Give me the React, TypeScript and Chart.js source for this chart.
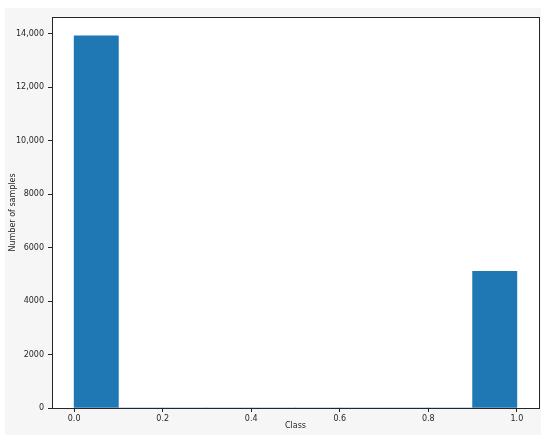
import React, { useEffect, useRef } from "react";
import { Chart, registerables } from "chart.js";

Chart.register(...registerables);

const binCenters = [0.05, 0.15, 0.25, 0.35, 0.45, 0.55, 0.65, 0.75, 0.85, 0.95];
const counts = [13920, 0, 0, 0, 0, 0, 0, 0, 0, 5110];
const xTicks = [0, 0.2, 0.4, 0.6, 0.8, 1.0];
const yTicks = [0, 2000, 4000, 6000, 8000, 10000, 12000, 14000];
const xLabel = "Class";
const yLabel = "Number of samples";

const FONT = "DejaVu Sans";

const framePlugin = {
  id: "frame",
  beforeDatasetsDraw(chart: any) {
    const { ctx, chartArea } = chart;
    ctx.save();
    ctx.fillStyle = "#ffffff";
    ctx.fillRect(
      chartArea.left,
      chartArea.top,
      chartArea.right - chartArea.left,
      chartArea.bottom - chartArea.top
    );
    ctx.restore();
  },
  afterDatasetsDraw(chart: any) {
    const { ctx, chartArea } = chart;
    ctx.save();
    ctx.strokeStyle = "#262626";
    ctx.lineWidth = 1;
    ctx.strokeRect(
      Math.round(chartArea.left) + 0.5,
      Math.round(chartArea.top) + 0.5,
      Math.round(chartArea.right - chartArea.left),
      Math.round(chartArea.bottom - chartArea.top)
    );
    ctx.restore();
  },
};

export default function App() {
  const ref = useRef<HTMLCanvasElement | null>(null);
  useEffect(() => {
    if (!ref.current) return;
    const chart = new Chart(ref.current, {
      type: "bar",
      data: {
        datasets: [
          {
            data: binCenters.map((x, i) => ({ x, y: counts[i] })),
            backgroundColor: "#1f77b4",
            borderWidth: 0,
            barPercentage: 1,
            categoryPercentage: 1,
          },
        ],
      },
      plugins: [framePlugin],
      options: {
        animation: false,
        responsive: false,
        maintainAspectRatio: false,
        layout: { padding: { top: 5, right: 2, left: 0, bottom: 0 } },
        plugins: { legend: { display: false }, tooltip: { enabled: false } },
        scales: {
          x: {
            type: "linear",
            min: -0.05,
            max: 1.05,
            offset: false,
            afterBuildTicks: (s: any) => {
              s.ticks = xTicks.map((v) => ({ value: v }));
            },
            afterFit: (s: any) => {
              s.height = 27;
            },
            grid: {
              offset: false,
              drawOnChartArea: false,
              drawTicks: true,
              tickLength: 4,
              color: "#262626",
            },
            border: { display: false },
            ticks: {
              autoSkip: false,
              maxRotation: 0,
              padding: 2,
              color: "#262626",
              font: { family: FONT, size: 8 },
              callback: (v: any) => Number(v).toFixed(1),
            },
            title: {
              display: true,
              text: xLabel,
              color: "#262626",
              font: { family: FONT, size: 8 },
              padding: { top: 0, bottom: 4 },
            },
          },
          y: {
            type: "linear",
            min: 0,
            max: 14630,
            afterBuildTicks: (s: any) => {
              s.ticks = yTicks.map((v) => ({ value: v }));
            },
            afterFit: (s: any) => {
              s.width = 47;
            },
            grid: { drawOnChartArea: false, drawTicks: true, tickLength: 4, color: "#262626" },
            border: { display: false },
            ticks: {
              autoSkip: false,
              padding: 4,
              color: "#262626",
              font: { family: FONT, size: 8 },
              callback: (v: any) =>
                Number(v) >= 10000 ? Number(v).toLocaleString("en-US") : String(v),
            },
            title: {
              display: true,
              text: yLabel,
              color: "#262626",
              font: { family: FONT, size: 8 },
              padding: { top: 3, bottom: 0 },
            },
          },
        },
      },
    } as any);
    return () => chart.destroy();
  }, []);

  return (
    <div
      style={{
        position: "absolute",
        left: 0,
        top: 0,
        width: 550,
        height: 440,
        background: "#ffffff",
      }}
    >
      <div
        style={{
          position: "absolute",
          left: 5,
          top: 8,
          width: 536,
          height: 427,
          background: "#f6f6f6",
        }}
      >
        <canvas ref={ref} width={536} height={427} style={{ display: "block" }} />
      </div>
    </div>
  );
}
